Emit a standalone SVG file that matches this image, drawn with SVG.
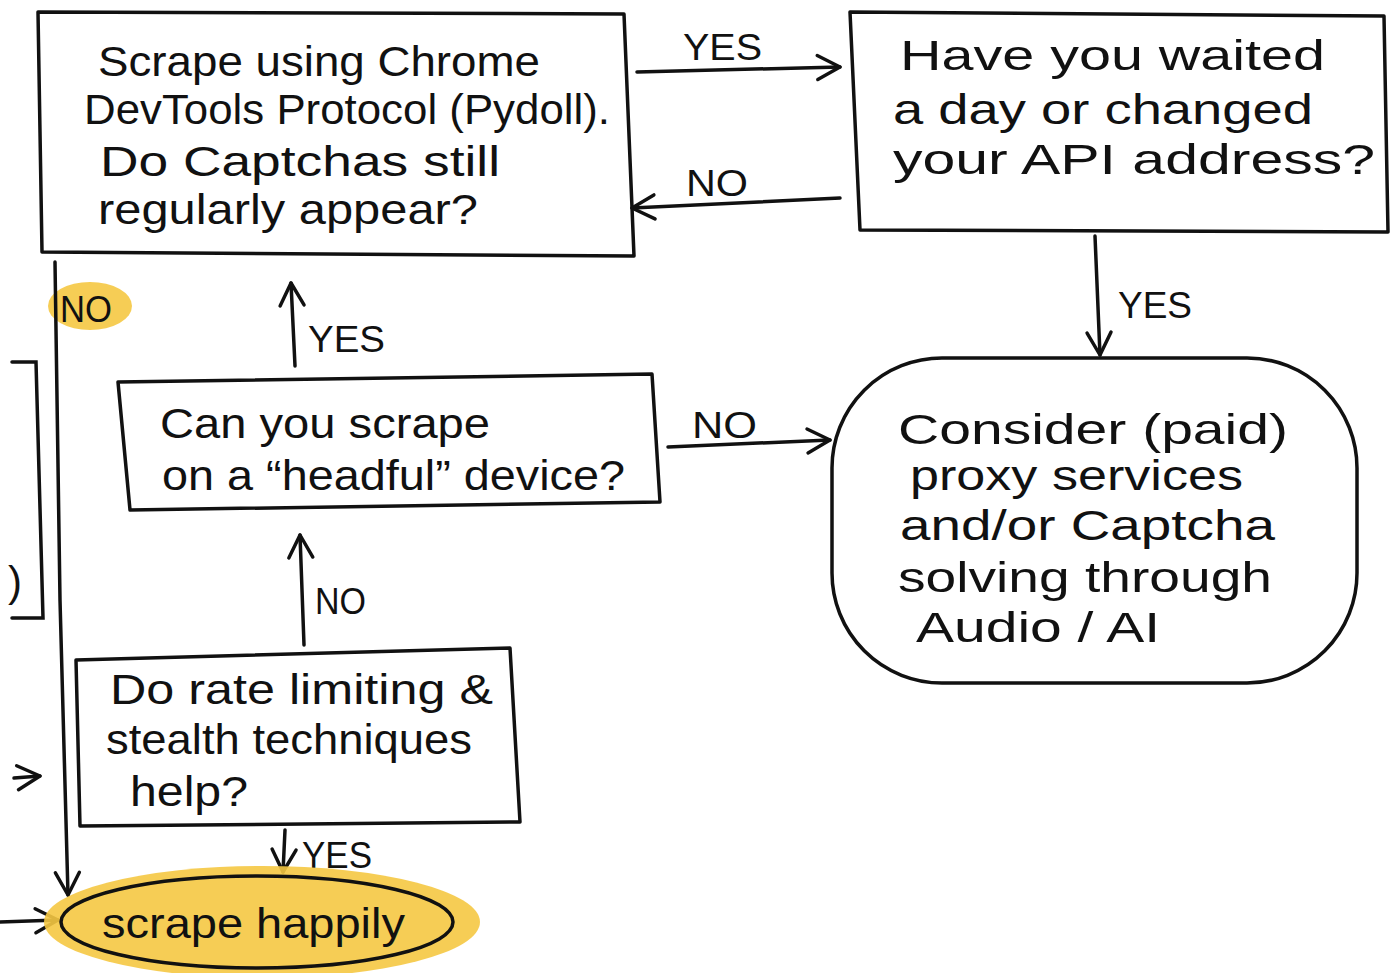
<svg xmlns="http://www.w3.org/2000/svg" width="1391" height="973" viewBox="0 0 1391 973">
<style>
.b{fill:none;stroke:#111;stroke-width:3.5;stroke-linecap:round;stroke-linejoin:round}
.t{font-family:"Liberation Sans",Arial,sans-serif;font-size:42px;fill:#111}
.l{font-family:"Liberation Sans",Arial,sans-serif;font-size:36px;fill:#111}
.c{fill:none;stroke:#111;stroke-width:3.5;stroke-linecap:round}
</style>
<defs>
<marker id="a" viewBox="0 0 20 20" refX="18" refY="10" markerWidth="30" markerHeight="30" markerUnits="userSpaceOnUse" orient="auto">
<path d="M3,2 L18,10 L3,18" fill="none" stroke="#111" stroke-width="2.3" stroke-linecap="round" stroke-linejoin="round"/>
</marker>
</defs>
<rect width="1391" height="973" fill="#fff"/>

<g id="connectors">
<path class="c" d="M637,72 L840,67" marker-end="url(#a)"/>
<text class="l" x="683" y="60" textLength="79" lengthAdjust="spacingAndGlyphs">YES</text>
<path class="c" d="M840,198 L632,208" marker-end="url(#a)"/>
<text class="l" x="686" y="196" textLength="62" lengthAdjust="spacingAndGlyphs">NO</text>
<path class="c" d="M1095,236 L1100,355" marker-end="url(#a)"/>
<text class="l" x="1118" y="318" textLength="74" lengthAdjust="spacingAndGlyphs">YES</text>
<path class="c" d="M668,447 L830,440" marker-end="url(#a)"/>
<text class="l" x="692" y="438" textLength="65" lengthAdjust="spacingAndGlyphs">NO</text>
<path class="c" d="M295,366 L291,283" marker-end="url(#a)"/>
<text class="l" x="308" y="352" textLength="77" lengthAdjust="spacingAndGlyphs">YES</text>
<path class="c" d="M304,645 L300,535" marker-end="url(#a)"/>
<text class="l" x="315" y="614" textLength="51" lengthAdjust="spacingAndGlyphs">NO</text>
<path class="c" d="M285,830 L283,872" marker-end="url(#a)"/>
<text class="l" x="302" y="868" textLength="70" lengthAdjust="spacingAndGlyphs">YES</text>
<ellipse cx="90" cy="306" rx="42" ry="24" fill="#f5c842" opacity="0.9"/>
<text class="l" x="60" y="322" textLength="52" lengthAdjust="spacingAndGlyphs">NO</text>
<path class="c" d="M55,262 L60,600 L68,895" marker-end="url(#a)"/>
<path class="c" d="M12,362 L36,362 L43,618 L12,618"/>
<text class="t" x="8" y="596">)</text>
<path class="c" d="M14,778 L40,776" marker-end="url(#a)"/>
<path class="c" d="M0,922 L58,920" marker-end="url(#a)"/>
</g>

<g id="n1">
<path class="b" d="M38,12 L624,14 L634,256 L42,252 Z"/>
<text class="t" x="98" y="76" textLength="442" lengthAdjust="spacingAndGlyphs">Scrape using Chrome</text>
<text class="t" x="84" y="124" textLength="526" lengthAdjust="spacingAndGlyphs">DevTools Protocol (Pydoll).</text>
<text class="t" x="100" y="176" textLength="400" lengthAdjust="spacingAndGlyphs">Do Captchas still</text>
<text class="t" x="98" y="224" textLength="380" lengthAdjust="spacingAndGlyphs">regularly appear?</text>
</g>

<g id="n2">
<path class="b" d="M850,12 L1384,16 L1388,232 L860,230 Z"/>
<text class="t" x="900" y="70" textLength="425" lengthAdjust="spacingAndGlyphs">Have you waited</text>
<text class="t" x="893" y="124" textLength="420" lengthAdjust="spacingAndGlyphs">a day or changed</text>
<text class="t" x="893" y="174" textLength="482" lengthAdjust="spacingAndGlyphs">your API address?</text>
</g>

<g id="n3">
<rect class="b" x="832" y="358" width="525" height="325" rx="110" ry="110"/>
<text class="t" x="898" y="444" textLength="390" lengthAdjust="spacingAndGlyphs">Consider (paid)</text>
<text class="t" x="910" y="490" textLength="333" lengthAdjust="spacingAndGlyphs">proxy services</text>
<text class="t" x="900" y="540" textLength="375" lengthAdjust="spacingAndGlyphs">and/or Captcha</text>
<text class="t" x="898" y="592" textLength="374" lengthAdjust="spacingAndGlyphs">solving through</text>
<text class="t" x="916" y="642" textLength="244" lengthAdjust="spacingAndGlyphs">Audio / AI</text>
</g>

<g id="n4">
<path class="b" d="M118,382 L652,374 L660,502 L130,510 Z"/>
<text class="t" x="160" y="438" textLength="330" lengthAdjust="spacingAndGlyphs">Can you scrape</text>
<text class="t" x="162" y="490" textLength="463" lengthAdjust="spacingAndGlyphs">on a “headful” device?</text>
</g>

<g id="n5">
<path class="b" d="M76,660 L510,648 L520,822 L80,826 Z"/>
<text class="t" x="110" y="704" textLength="383" lengthAdjust="spacingAndGlyphs">Do rate limiting &amp;</text>
<text class="t" x="106" y="754" textLength="366" lengthAdjust="spacingAndGlyphs">stealth techniques</text>
<text class="t" x="130" y="806" textLength="118" lengthAdjust="spacingAndGlyphs">help?</text>
</g>

<g id="n6">
<ellipse cx="262" cy="922" rx="218" ry="56" fill="#f5c842" opacity="0.9"/>
<ellipse class="b" cx="257" cy="922" rx="196" ry="46"/>
<text class="t" x="102" y="938" textLength="303" lengthAdjust="spacingAndGlyphs">scrape happily</text>
</g>
</svg>
